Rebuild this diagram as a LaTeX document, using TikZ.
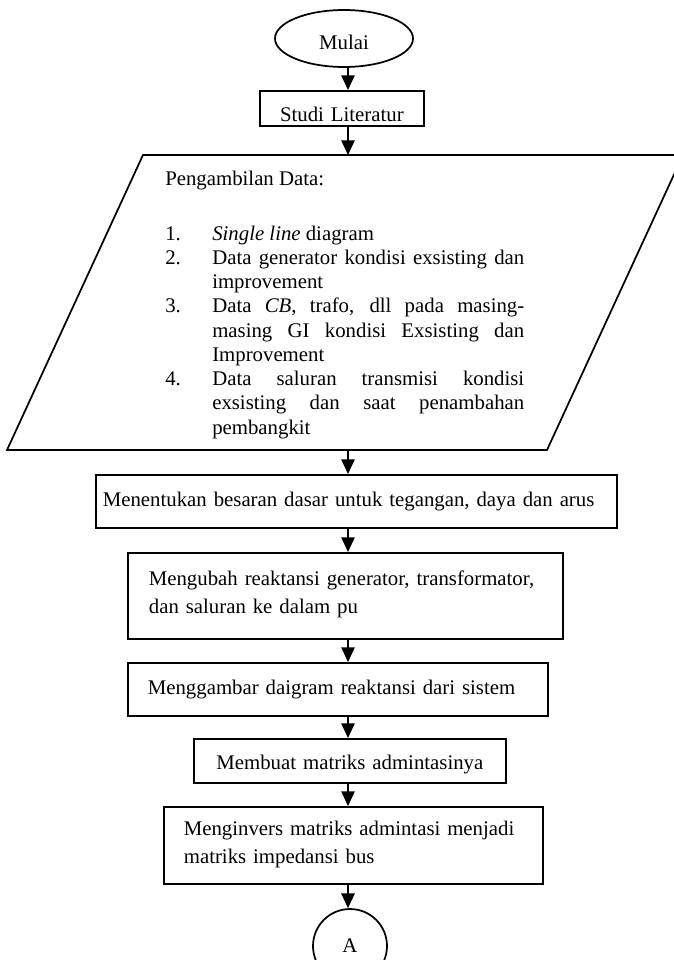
\documentclass[tikz,border=0pt]{standalone}
\usepackage{fontspec}
\setmainfont{Liberation Serif}
\usepackage{tikz}
\usetikzlibrary{arrows.meta,shapes.geometric}
\newdimen\pxu
\pxu=0.75pt

\begin{document}
\begin{tikzpicture}[x=0.75pt, y=-0.75pt, >={Triangle[width=10pt, length=11pt]},
        flowbox/.style={draw, line width=1.3pt, inner ysep=0pt, anchor=north west,
            font=\fontsize{15.6}{21}\selectfont},
        flowline/.style={->, line width=1.2pt},
        datatext/.style={inner sep=0pt, anchor=base west, font=\fontsize{15.6}{18.2}\selectfont}]
        \useasboundingbox (0,0) rectangle (674,960);
        \coordinate (axis) at (348,0);
        \node [draw, ellipse, line width=1.3pt, minimum width=138\pxu, minimum height=57\pxu,
            inner sep=0pt, font=\fontsize{15.6}{21}\selectfont, text height=17pt, text depth=0pt]
            (mulai) at (344,38.5) {Mulai};
        \node [flowbox, align=center, text width=164\pxu, inner xsep=0pt,
            text height=31\pxu, text depth=4\pxu] (studi) at (259,90) {Studi Literatur};
        % data input
        \draw [line width=1.3pt] (143,155) -- (683,155) -- (547,450) -- (7,450) -- cycle;
        \coordinate (datatop) at (348,155);
        \coordinate (databot) at (348,450);
        \node [datatext] (datahead) at (165,185) {Pengambilan Data:};
        \node [datatext] (datalist) at (165,240) {%
            \begin{tabular}[t]{@{}p{47\pxu}@{}p{312\pxu}@{}}
                1. & \textit{Single line} diagram \\
                2. & \makebox[312\pxu][s]{Data generator kondisi exsisting dan} \\
                   & improvement \\
                3. & \makebox[312\pxu][s]{Data \textit{CB}, trafo, dll pada masing-} \\
                   & \makebox[312\pxu][s]{masing GI kondisi Exsisting dan} \\
                   & Improvement \\
                4. & \makebox[312\pxu][s]{Data saluran transmisi kondisi} \\
                   & \makebox[312\pxu][s]{exsisting dan saat penambahan} \\
                   & pembangkit
            \end{tabular}};
        \node [flowbox, align=left, text width=507\pxu, inner xsep=7\pxu,
            text height=32\pxu, text depth=21\pxu] (menentukan) at (95,474)
            {Menentukan besaran dasar untuk tegangan, daya dan arus};
        \node [flowbox, align=left, text width=393\pxu, inner xsep=21\pxu,
            text height=33\pxu, text depth=53\pxu] (mengubah) at (127,552)
            {\mbox{Mengubah reaktansi generator, transformator,}\\ dan saluran ke dalam pu};
        \node [flowbox, align=left, text width=380\pxu, inner xsep=20\pxu,
            text height=32\pxu, text depth=21\pxu] (menggambar) at (127,662)
            {Menggambar daigram reaktansi dari sistem};
        \node [flowbox, align=center, text width=292\pxu, inner xsep=10\pxu,
            text height=31\pxu, text depth=13\pxu] (membuat) at (193,738)
            {\mbox{Membuat matriks admintasinya}};
        \node [flowbox, align=left, text width=339\pxu, inner xsep=20\pxu,
            text height=29\pxu, text depth=48\pxu] (menginvers) at (163,806)
            {\mbox{Menginvers matriks admintasi menjadi}\\ matriks impedansi bus};
        \node [draw, circle, line width=1.3pt, minimum size=74\pxu, inner sep=0pt,
            font=\fontsize{15.6}{21}\selectfont] (konektor) at (350,946) {A};
        \draw [flowline] (mulai.south -| axis) -- (studi.north -| axis);
        \draw [flowline] (studi.south -| axis) -- (datatop);
        \draw [flowline] (databot) -- (menentukan.north -| axis);
        \draw [flowline] (menentukan.south -| axis) -- (mengubah.north -| axis);
        \draw [flowline] (mengubah.south -| axis) -- (menggambar.north -| axis);
        \draw [flowline] (menggambar.south -| axis) -- (membuat.north -| axis);
        \draw [flowline] (membuat.south -| axis) -- (menginvers.north -| axis);
        \draw [flowline] (menginvers.south -| axis) -- (konektor.north -| axis);
    \end{tikzpicture}
\end{document}
